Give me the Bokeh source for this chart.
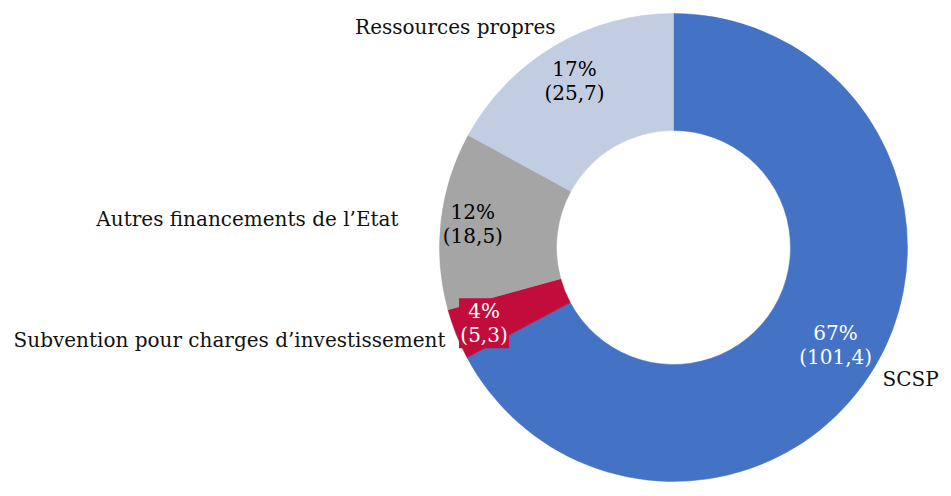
import math
from bokeh.plotting import figure
from bokeh.models import Range1d
from bokeh.core.properties import value
from bokeh.embed import file_html
from bokeh.resources import INLINE

categories = ["SCSP", "Subvention pour charges d\u2019investissement",
              "Autres financements de l\u2019Etat", "Ressources propres"]
amounts = [101.4, 5.3, 18.5, 25.7]
colors = ["#4472C4", "#C20C3C", "#A5A5A5", "#C3CDE1"]
label_colors = ["white", "white", "black", "black"]

W, H = 951, 496
FONT = "DejaVu Serif"
FS = "20px"

p = figure(width=W, height=H, output_backend="svg", toolbar_location=None,
           x_range=Range1d(0, W), y_range=Range1d(0, H), min_border=0)
p.axis.visible = False
p.grid.visible = False
p.outline_line_color = None
p.background_fill_color = "white"
p.border_fill_color = "white"

cx, cy = 673, 249
r_out, r_in = 234, 117
r_lab = [189, 204, 202, 194]

total = sum(amounts)
cum = 0.0
starts, ends, mids = [], [], []
for a in amounts:
    s = math.pi / 2 - 2 * math.pi * cum / total
    cum += a
    e = math.pi / 2 - 2 * math.pi * cum / total
    starts.append(s); ends.append(e); mids.append((s + e) / 2)

p.annular_wedge(x=[cx] * 4, y=[cy] * 4, inner_radius=r_in, outer_radius=r_out,
                start_angle=starts, end_angle=ends, direction="clock",
                fill_color=colors, line_color=colors, line_width=0.5)

# value labels
for i, a in enumerate(amounts):
    lx = cx + r_lab[i] * math.cos(mids[i])
    ly = cy + r_lab[i] * math.sin(mids[i])
    pct = f"{round(100 * a / total)}%"
    val = "(" + f"{a:.1f}".replace(".", ",") + ")"
    if i == 1:
        p.quad(left=[lx - 25], right=[lx + 25], bottom=[ly - 25], top=[ly + 25],
               fill_color=colors[1], line_color=None)
    p.text(x=[lx], y=[ly + 12], text=[pct], text_align="center", text_baseline="middle",
           text_font=value(FONT), text_font_size=FS, text_color=label_colors[i])
    p.text(x=[lx], y=[ly - 12], text=[val], text_align="center", text_baseline="middle",
           text_font=value(FONT), text_font_size=FS, text_color=label_colors[i])

# category labels (layout positions)
cat_pos = [(882, 118, "left"), (445, 157, "right"), (398, 278, "right"), (555, 470, "right")]
for i, name in enumerate(categories):
    x, y, al = cat_pos[i]
    p.text(x=[x], y=[y], text=[name], text_align=al, text_baseline="middle",
           text_font=value(FONT), text_font_size=FS, text_color="#111111")

open("out.html", "w").write(file_html(p, INLINE))
